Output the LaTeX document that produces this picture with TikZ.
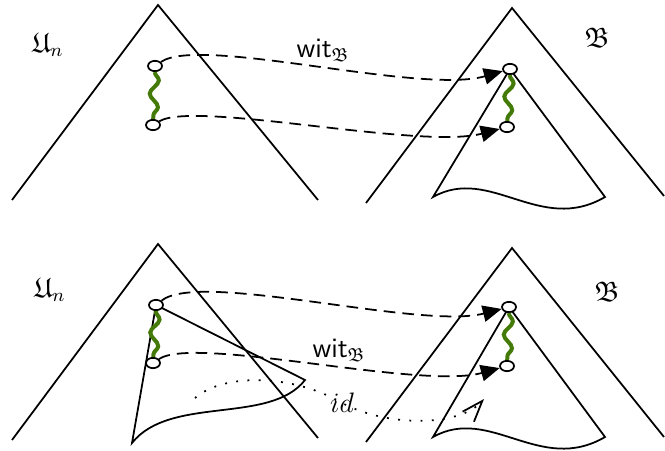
\documentclass[tikz,border=0pt]{standalone}
\usepackage{amssymb}
\usetikzlibrary{%
    arrows.meta,%
    shapes.geometric,%
    decorations.pathmorphing%
}
\definecolor{wiggle}{RGB}{68,122,8}

\tikzset{
    pt/.style={draw, ellipse, fill=white, inner sep=0pt, minimum width=0.21cm, minimum height=0.155cm},
    wit/.style={dash pattern=on 5pt off 3pt, -{Triangle[length=8pt,width=7pt]}},
    wavy/.style={draw=wiggle, line width=1.7pt, decorate, decoration={snake, segment length=0.4cm, amplitude=0.065cm}},
    idmap/.style={dash pattern=on 0.8pt off 4pt, -{Straight Barb[length=9pt,width=6.5pt]}}
}

\begin{document}
\begin{tikzpicture}[x=0.015cm, y=-0.015cm, line width=0.75pt]
\useasboundingbox (0,0) rectangle (665,450);

% arriba
\draw (12,200) -- (158,5) -- (318,200);   %U_n
\draw (366,203) -- (512,8) -- (664,196);   %B
\node at (48,45) {\large $\mathfrak{U}_n$};
\node at (597,38) {\large $\mathfrak{B}$};
\draw (510,69) -- (433,197) .. controls (490,165) and (540,235) .. (605,197) -- cycle;   %cono

\node[pt] (a1) at (155,66) {};
\node[pt] (a2) at (153,125) {};
\node[pt] (b1) at (510,69) {};
\node[pt] (b2) at (507,127) {};
\draw[wavy] (a1) -- (a2);
\draw[wavy] (b1) -- (b2);
\draw[wit] (a1) .. controls (200,35) and (420,95) .. (b1);
\draw[wit] (a2) .. controls (195,100) and (420,150) .. (b2);
\node at (323,50) {\large \textsf{wit}$_{\mathfrak{B}}$};

% abajo
\draw (12,440) -- (158,244) -- (318,438);   %U_n
\draw (366,442) -- (512,248) -- (664,437);   %B
\node at (50,290) {\large $\mathfrak{U}_n$};
\node at (607,292) {\large $\mathfrak{B}$};
\draw (156,305) -- (132,443) .. controls (170,395) and (270,425) .. (305,380) -- cycle;   %cono
\draw (509,307) -- (433,437) .. controls (490,405) and (540,475) .. (605,437) -- cycle;   %cono

\node[pt] (c1) at (156,305) {};
\node[pt] (c2) at (153,363) {};
\node[pt] (d1) at (509,307) {};
\node[pt] (d2) at (507,366) {};
\draw[wavy] (c1) -- (c2);
\draw[wavy] (d1) -- (d2);
\draw[wit] (c1) .. controls (200,270) and (420,330) .. (d1);
\draw[wit] (c2) .. controls (195,335) and (420,390) .. (d2);
\node at (339,350) {\large \textsf{wit}$_{\mathfrak{B}}$};

\coordinate (s) at (195,398);
\coordinate (t) at (484,399);
\draw[idmap] (s) .. controls (225,372) and (295,375) .. (342,403) node {\large $id$} .. controls (390,428) and (460,426) .. (t);

\end{tikzpicture}
\end{document}
